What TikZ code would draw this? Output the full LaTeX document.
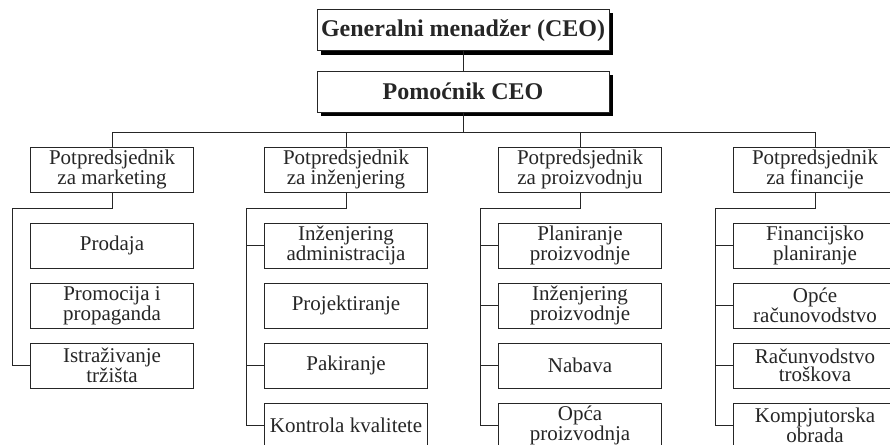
\documentclass[tikz,border=0pt]{standalone}
\usepackage{fontspec}
\setmainfont{Liberation Serif}
\usetikzlibrary{shadows,positioning}
\tikzset{topbox/.style={rectangle,draw,fill=white,line width=1pt,minimum width=292pt,minimum height=41pt,inner sep=0pt,font=\bfseries\fontsize{24}{26}\selectfont,drop shadow={shadow xshift=3.5pt,shadow yshift=-3.5pt,opacity=1,fill=black}},vpbox/.style={rectangle,draw,fill=white,line width=.9pt,minimum width=163pt,minimum height=45pt,inner sep=0pt,align=center,font=\fontsize{21}{18.5}\selectfont},unitbox/.style={vpbox},link/.style={line width=.9pt},every picture/.style={line join=miter}}

\begin{document}
\begin{tikzpicture}[x=1pt,y=-1pt,color=black!85]
\useasboundingbox (0,0) rectangle (890,444);
\clip (0,0) rectangle (890,444);
\node[topbox] (ceo) at (463,30.5) {Generalni menadžer (CEO)};
\node[topbox] (asst) at (463,91.5) {Pomoćnik CEO};
\coordinate (bus) at (463,132);
\draw[link] (ceo) -- (asst);
\draw[link] (asst) -- (bus);
\foreach \x/\sfx/\vp in {112/m/{Potpredsjednik\\za marketing},346/i/{Potpredsjednik\\za inženjering},580/p/{Potpredsjednik\\za proizvodnju},815/f/{Potpredsjednik\\za financije}}{
\node[vpbox] (d\sfx) at (\x,169.5) {\vp};
\coordinate (e\sfx) at (\x-100,208);
\draw[link] (bus) -| (d\sfx.north);
\draw[link] (d\sfx.south) |- (e\sfx);
}
% jedinice po odjelima
\foreach \n/\t in {1/Prodaja,2/{Promocija i\\propaganda},3/{Istraživanje\\tržišta}}
\node[unitbox] (m\n) at (112,185.5+60*\n) {\t};
\foreach \n/\t in {1/{Inženjering\\administracija},2/Projektiranje,3/Pakiranje,4/Kontrola kvalitete}
\node[unitbox] (i\n) at (346,185.5+60*\n) {\t};
\foreach \n/\t in {1/{Planiranje\\proizvodnje},2/{Inženjering\\proizvodnje},3/Nabava,4/{Opća\\proizvodnja}}
\node[unitbox] (p\n) at (580,185.5+60*\n) {\t};
\foreach \n/\t in {1/{Financijsko\\planiranje},2/{Opće\\računovodstvo},3/{Računvodstvo\\troškova},4/{Kompjutorska\\obrada}}
\node[unitbox] (f\n) at (815,185.5+60*\n) {\t};
\foreach \n in {3} \draw[link] (em) |- (m\n.west);
\foreach \n in {1,3,4} \draw[link] (ei) |- (i\n.west);
\foreach \n in {1,2,3,4} \draw[link] (ep) |- (p\n.west);
\foreach \n in {1,2,3,4} \draw[link] (ef) |- (f\n.west);
\end{tikzpicture}
\end{document}
